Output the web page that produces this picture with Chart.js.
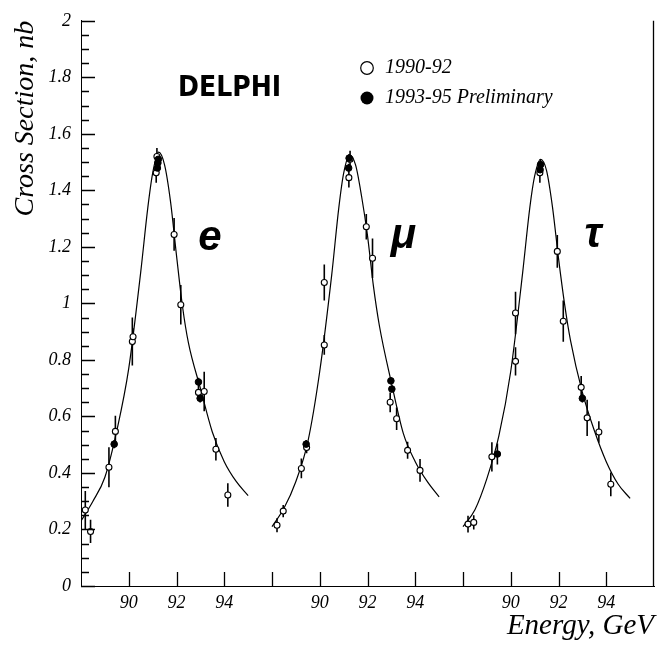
<!DOCTYPE html>
<html><head><meta charset="utf-8">
<script src="https://cdn.jsdelivr.net/npm/chart.js@4/dist/chart.umd.min.js"></script>
<style>html,body{margin:0;padding:0;background:#fff}</style>
</head><body>
<canvas id="c" width="662" height="653"></canvas>
<script>
// ---- data (energies in GeV, cross sections in nb) ----
const panelNames = ['e', 'μ', 'τ'];
const panelFirstE = 88;      // each panel spans 88..96 GeV
const panelWidthE = 8;
const xTickEnergies = [90, 92, 94];
const yMax = 2;
const yMajorStep = 0.2;
const yMinorStep = 0.05;

// e+e- channel
const eOpenE   = [88.18, 88.40, 89.17, 89.44, 90.15, 90.18, 91.18, 91.15, 91.90, 92.18, 92.92, 93.16, 93.65, 94.15];
const eOpenV   = [0.269, 0.193, 0.420, 0.547, 0.865, 0.882, 1.520, 1.462, 1.244, 0.995, 0.685, 0.688, 0.484, 0.322];
const eOpenErr = [0.067, 0.041, 0.071, 0.055, 0.085, 0.030, 0.030, 0.035, 0.058, 0.070, 0.025, 0.070, 0.040, 0.042];
const eFullE   = [89.39, 91.24, 91.20, 91.22, 92.92, 92.99];
const eFullV   = [0.502, 1.510, 1.479, 1.497, 0.722, 0.664];
const eFullErr = [0.015, 0.015, 0.015, 0.015, 0.015, 0.015];

// mu+mu- channel
const muOpenE   = [88.21, 88.47, 89.23, 89.45, 90.19, 90.19, 91.22, 91.27, 91.95, 92.21, 92.95, 93.22, 93.68, 94.20];
const muOpenV   = [0.215, 0.265, 0.416, 0.490, 0.853, 1.074, 1.445, 1.510, 1.271, 1.160, 0.650, 0.592, 0.480, 0.409];
const muOpenErr = [0.025, 0.022, 0.035, 0.020, 0.035, 0.064, 0.035, 0.030, 0.045, 0.070, 0.035, 0.040, 0.030, 0.040];
const muFullE   = [89.43, 91.23, 91.21, 92.98, 93.02];
const muFullV   = [0.502, 1.514, 1.479, 0.726, 0.697];
const muFullErr = [0.015, 0.015, 0.015, 0.012, 0.012];

// tau+tau- channel
const tauOpenE   = [88.21, 88.45, 89.21, 90.20, 90.20, 91.22, 91.95, 92.20, 92.95, 93.20, 93.69, 94.19];
const tauOpenV   = [0.219, 0.225, 0.457, 0.795, 0.966, 1.462, 1.184, 0.937, 0.703, 0.595, 0.545, 0.360];
const tauOpenErr = [0.030, 0.025, 0.052, 0.050, 0.075, 0.035, 0.058, 0.073, 0.040, 0.064, 0.038, 0.042];
const tauFullE   = [89.44, 91.25, 91.23, 93.00];
const tauFullV   = [0.467, 1.491, 1.473, 0.664];
const tauFullErr = [0.037, 0.020, 0.020, 0.015];

// fitted curves
const curveE    = [88.0, 88.5, 89.0, 89.5, 90.0, 90.5, 90.8, 91.0, 91.25, 91.5, 91.75, 92.0, 92.25, 92.5, 93.0, 93.5, 94.0, 94.5, 95.0];
const curveEe   = [0.23, 0.30, 0.385, 0.55, 0.77, 1.11, 1.34, 1.46, 1.535, 1.49, 1.36, 1.17, 0.99, 0.86, 0.70, 0.545, 0.44, 0.37, 0.32];
const curveMu   = [0.21, 0.275, 0.37, 0.51, 0.76, 1.10, 1.34, 1.46, 1.525, 1.49, 1.38, 1.24, 1.06, 0.92, 0.72, 0.54, 0.44, 0.37, 0.315];
const curveTau  = [0.21, 0.27, 0.38, 0.53, 0.76, 1.11, 1.34, 1.45, 1.51, 1.47, 1.34, 1.16, 1.00, 0.87, 0.685, 0.55, 0.44, 0.36, 0.31];

// where the channel labels sit (energy within panel, cross section at baseline)
const channelLabelE = [93.40, 93.50, 93.45];
const channelLabelV = [1.19, 1.195, 1.20];

const legendLabels = ['1990-92', '1993-95 Preliminary'];
const experimentName = 'DELPHI';

// ---- build datasets ----
const toX = (panel, E) => panel * panelWidthE + (E - panelFirstE);
const pts = (panel, Es, Vs) => Es.map((E, i) => ({x: toX(panel, E), y: Vs[i]}));
const bars = (panel, Es, Vs, Errs) => {
  const out = [];
  Es.forEach((E, i) => {
    out.push({x: toX(panel, E), y: Vs[i] - Errs[i]});
    out.push({x: toX(panel, E), y: Vs[i] + Errs[i]});
    out.push({x: toX(panel, E), y: null});
  });
  return out;
};

const chan = [
  {oE: eOpenE, oV: eOpenV, oErr: eOpenErr, fE: eFullE, fV: eFullV, fErr: eFullErr, c: curveEe},
  {oE: muOpenE, oV: muOpenV, oErr: muOpenErr, fE: muFullE, fV: muFullV, fErr: muFullErr, c: curveMu},
  {oE: tauOpenE, oV: tauOpenV, oErr: tauOpenErr, fE: tauFullE, fV: tauFullV, fErr: tauFullErr, c: curveTau},
];

const datasets = [];
chan.forEach((ch, p) => {
  datasets.push({type: 'scatter', label: legendLabels[1] + ' ' + panelNames[p], data: pts(p, ch.fE, ch.fV),
    pointRadius: 3.3, pointBackgroundColor: '#000', pointBorderColor: '#000', pointBorderWidth: 1, order: 0});
  datasets.push({type: 'scatter', label: legendLabels[0] + ' ' + panelNames[p], data: pts(p, ch.oE, ch.oV),
    pointRadius: 3, pointBackgroundColor: '#fff', pointBorderColor: '#000', pointBorderWidth: 1.1, order: 1});
  datasets.push({type: 'line', label: 'err ' + panelNames[p],
    data: bars(p, ch.oE.concat(ch.fE), ch.oV.concat(ch.fV), ch.oErr.concat(ch.fErr)),
    borderColor: '#000', borderWidth: 1.6, pointRadius: 0, spanGaps: false, order: 2});
  datasets.push({type: 'line', label: 'fit ' + panelNames[p], data: pts(p, curveE, ch.c),
    borderColor: '#000', borderWidth: 1.2, pointRadius: 0, cubicInterpolationMode: 'monotone', order: 3});
});

const serif = "'Liberation Serif', 'Times New Roman', serif";

const decorPlugin = {
  id: 'decor',
  afterDraw(chart) {
    const {ctx, chartArea: a} = chart;
    const x = chart.scales.x, y = chart.scales.y;
    ctx.save();
    ctx.strokeStyle = '#000000';
    ctx.globalAlpha = 1;
    ctx.setLineDash([]);
    ctx.lineWidth = 1.3;
    // right frame line
    ctx.beginPath();
    ctx.moveTo(a.right - 0.5, a.top);
    ctx.lineTo(a.right - 0.5, a.bottom);
    ctx.stroke();
    // y ticks inside (major + minor)
    const nMinor = Math.round(yMax / yMinorStep);
    const per = Math.round(yMajorStep / yMinorStep);
    ctx.beginPath();
    for (let i = 0; i <= nMinor; i++) {
      const py = Math.round(y.getPixelForValue(i * yMinorStep)) + 0.5;
      const len = (i % per === 0) ? 14 : 8;
      ctx.moveTo(a.left, py);
      ctx.lineTo(a.left + len, py);
    }
    // x ticks inside
    for (let v = 2; v < panelWidthE * panelNames.length; v += 2) {
      const px = Math.round(x.getPixelForValue(v)) + 0.5;
      ctx.moveTo(px, a.bottom);
      ctx.lineTo(px, a.bottom - 14);
    }
    ctx.stroke();
    // channel labels
    ctx.fillStyle = '#000';
    ctx.font = "italic bold 42px 'Liberation Sans', Arial, sans-serif";
    ctx.textAlign = 'center';
    ctx.textBaseline = 'alphabetic';
    panelNames.forEach((n, p) => {
      ctx.fillText(n, x.getPixelForValue(toX(p, channelLabelE[p])), y.getPixelForValue(channelLabelV[p]));
    });
    // experiment name
    ctx.font = "bold 28px 'DejaVu Sans Condensed', 'DejaVu Sans', sans-serif";
    ctx.textAlign = 'left';
    ctx.textBaseline = 'middle';
    ctx.fillText(experimentName, 178, 89);
    // legend
    ctx.beginPath();
    ctx.arc(367, 68, 6.3, 0, Math.PI * 2);
    ctx.fillStyle = '#fff'; ctx.fill();
    ctx.lineWidth = 1.2; ctx.stroke();
    ctx.beginPath();
    ctx.arc(367, 98, 6.5, 0, Math.PI * 2);
    ctx.fillStyle = '#000'; ctx.fill();
    ctx.font = 'italic 20px ' + serif;
    ctx.fillText(legendLabels[0], 385, 68);
    ctx.fillText(legendLabels[1], 385, 98);
    ctx.restore();
  }
};

new Chart(document.getElementById('c'), {
  data: {datasets},
  options: {
    responsive: false,
    devicePixelRatio: 1,
    animation: false,
    events: [],
    layout: {padding: {left: 0, right: 8, top: 12, bottom: 0}},
    plugins: {legend: {display: false}, tooltip: {enabled: false}},
    scales: {
      x: {
        type: 'linear', min: 0, max: panelWidthE * panelNames.length,
        afterFit: s => { s.height = 67; },
        afterBuildTicks: s => {
          const t = [];
          for (let v = 0; v <= panelWidthE * panelNames.length; v += 2) t.push({value: v});
          s.ticks = t;
        },
        grid: {display: true, drawOnChartArea: false, drawTicks: false},
        border: {display: true, color: '#000', width: 1},
        ticks: {
          autoSkip: false, maxRotation: 0, padding: 6, color: '#000',
          font: {family: serif, style: 'italic', size: 18},
          callback: v => {
            const e = panelFirstE + (v % panelWidthE);
            return xTickEnergies.includes(e) ? String(e) : '';
          }
        },
        title: {display: true, text: 'Energy, GeV', align: 'end', color: '#000',
          font: {family: serif, style: 'italic', size: 29}, padding: {top: 0, bottom: 9}}
      },
      y: {
        type: 'linear', min: 0, max: yMax,
        afterFit: s => { s.width = 81; },
        grid: {display: true, drawOnChartArea: false, drawTicks: false},
        border: {display: true, color: '#000', width: 1},
        ticks: {
          stepSize: yMajorStep, padding: 10, color: '#000',
          font: {family: serif, style: 'italic', size: 18},
          callback: v => String(Math.round(v * 10) / 10)
        },
        title: {display: true, text: 'Cross Section, nb', align: 'end', color: '#000',
          font: {family: serif, style: 'italic', size: 28}, padding: {top: 9, bottom: 0}}
      }
    }
  },
  plugins: [decorPlugin]
});
</script>
</body></html>
